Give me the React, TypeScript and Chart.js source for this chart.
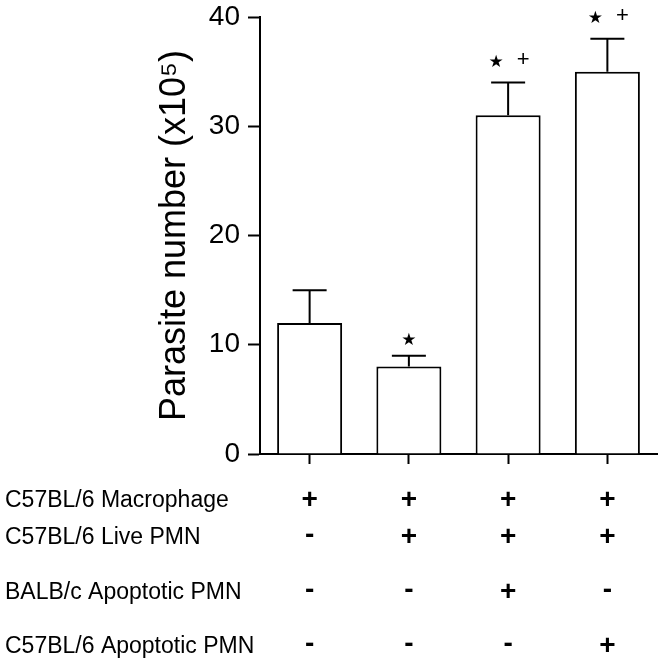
import { useEffect, useRef } from 'react';
import { Chart, registerables } from 'chart.js';

Chart.register(...registerables);

// ---- data ----
const groups = ['Group 1', 'Group 2', 'Group 3', 'Group 4'];
const parasiteMeans = [12, 8, 31, 35];
const parasiteErrors = [3, 1, 3, 3];
const starVsControl = [false, true, true, true];
const plusVsLivePMN = [false, false, true, true];
const yTickValues = [0, 10, 20, 30, 40];

const rowLabels = [
  'C57BL/6 Macrophage',
  'C57BL/6 Live PMN',
  'BALB/c Apoptotic PMN',
  'C57BL/6 Apoptotic PMN',
];
const macrophageRow = ['+', '+', '+', '+'];
const livePMNRow = ['-', '+', '+', '+'];
const balbApoptoticRow = ['-', '-', '+', '-'];
const c57ApoptoticRow = ['-', '-', '-', '+'];
const tableRows = [macrophageRow, livePMNRow, balbApoptoticRow, c57ApoptoticRow];

const FONT = '"Liberation Sans", Arial, Helvetica, sans-serif';

const extrasPlugin = {
  id: 'extras',
  afterDatasetsDraw(chart: any) {
    const ctx = chart.ctx;
    const meta = chart.getDatasetMeta(0);
    const yScale = chart.scales.y;
    ctx.save();
    ctx.strokeStyle = '#000';
    ctx.fillStyle = '#000';
    ctx.lineWidth = 2;
    meta.data.forEach((bar: any, i: number) => {
      const x = bar.x;
      const yTop = yScale.getPixelForValue(parasiteMeans[i]);
      const yErr = yScale.getPixelForValue(parasiteMeans[i] + parasiteErrors[i]);
      ctx.beginPath();
      ctx.moveTo(x, yTop);
      ctx.lineTo(x, yErr);
      ctx.moveTo(x - 17, yErr);
      ctx.lineTo(x + 17, yErr);
      ctx.stroke();

      // significance marks
      const both = starVsControl[i] && plusVsLivePMN[i];
      if (starVsControl[i]) {
        ctx.font = '17px "DejaVu Sans", sans-serif';
        ctx.textAlign = 'center';
        ctx.textBaseline = 'middle';
        ctx.fillText('★', both ? x - 12 : x, yErr - (both ? 20 : 15));
      }
      if (plusVsLivePMN[i]) {
        ctx.font = `22px ${FONT}`;
        ctx.textAlign = 'center';
        ctx.textBaseline = 'alphabetic';
        ctx.fillText('+', x + 15, yErr - 25 + 8);
      }
    });

    // bottom table
    const rowCenters = [498, 535, 590, 644];
    rowLabels.forEach((label, r) => {
      ctx.font = `23px ${FONT}`;
      ctx.textAlign = 'left';
      ctx.textBaseline = 'alphabetic';
      ctx.fillText(label, 5, rowCenters[r] + 9);
      tableRows[r].forEach((sym, i) => {
        const x = meta.data[i].x;
        ctx.font = `bold 28px ${FONT}`;
        ctx.textAlign = 'center';
        ctx.textBaseline = 'alphabetic';
        const off = sym === '+' ? 9.5 : 7.5;
        ctx.fillText(sym, x, rowCenters[r] + off);
      });
    });
    ctx.restore();
  },
};

export default function App() {
  const ref = useRef<HTMLCanvasElement>(null);
  useEffect(() => {
    document.body.style.margin = '0';
    if (!ref.current) return;
    const chart = new Chart(ref.current, {
      type: 'bar',
      data: {
        labels: groups,
        datasets: [
          {
            data: parasiteMeans,
            backgroundColor: '#ffffff',
            borderColor: '#000000',
            borderWidth: 2,
            barPercentage: 0.655,
            categoryPercentage: 1,
          },
        ],
      },
      options: {
        responsive: false,
        animation: false,
        devicePixelRatio: 1,
        layout: { padding: { left: 0, right: 7, top: 17, bottom: 0 } },
        plugins: {
          legend: { display: false },
          tooltip: { enabled: false },
        },
        scales: {
          x: {
            afterFit: (s: any) => {
              s.height = 213;
              s.paddingLeft = 0;
              s.paddingRight = 0;
            },
            grid: {
              display: true,
              offset: false,
              drawOnChartArea: false,
              drawTicks: true,
              tickLength: 10,
              tickColor: '#000',
              tickWidth: 2,
            },
            border: { display: true, color: '#000', width: 2 },
            ticks: { callback: () => '', color: 'rgba(0,0,0,0)' },
          },
          y: {
            min: 0,
            max: 40,
            afterFit: (s: any) => {
              s.width = 260;
              s.paddingTop = 0;
              s.paddingBottom = 0;
            },
            afterBuildTicks: (s: any) => {
              s.ticks = yTickValues.map((v) => ({ value: v }));
            },
            grid: {
              display: true,
              drawOnChartArea: false,
              drawTicks: true,
              tickLength: 12,
              tickColor: '#000',
              tickWidth: 2,
            },
            border: { display: true, color: '#000', width: 2 },
            ticks: {
              padding: 8,
              color: '#000',
              font: { family: FONT, size: 28 },
            },
            title: {
              display: true,
              text: 'Parasite number (x10⁵)',
              color: '#000',
              font: { family: FONT, size: 36 },
              padding: { top: 153, bottom: 0 },
            },
          },
        },
      },
      plugins: [extrasPlugin],
    });
    return () => chart.destroy();
  }, []);
  return <canvas ref={ref} width={664} height={667} style={{ display: 'block', width: 664, height: 667 }} />;
}
